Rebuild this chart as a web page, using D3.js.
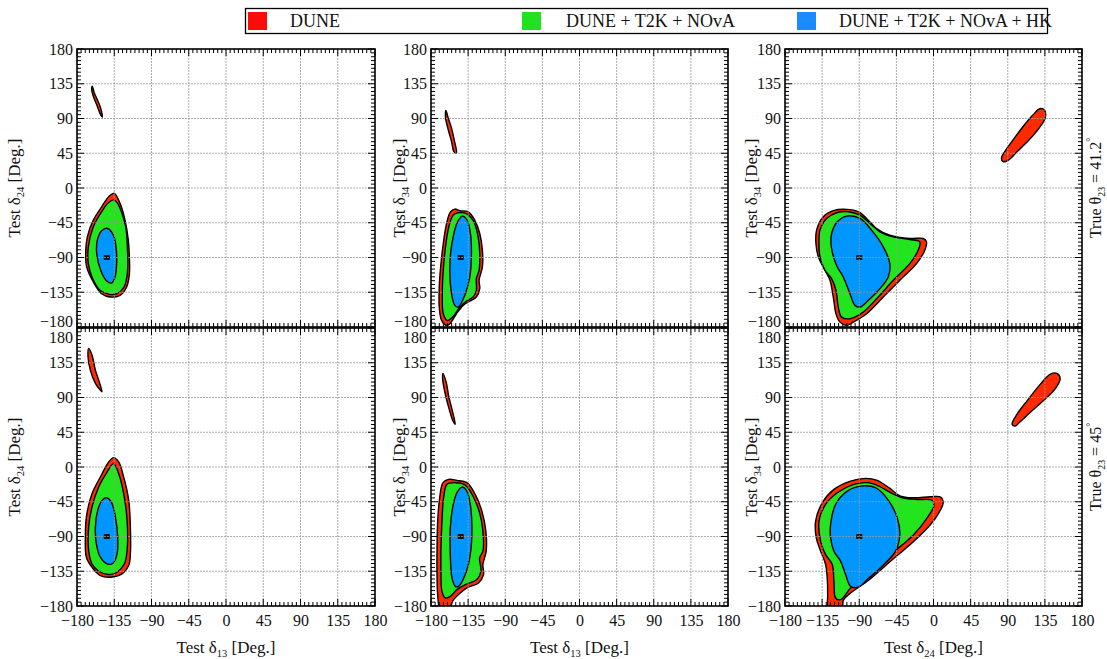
<!DOCTYPE html>
<html><head><meta charset="utf-8">
<script src="https://cdn.jsdelivr.net/npm/d3@7"></script>
<style>body{margin:0;background:#fff} svg text{font-family:"Liberation Serif","DejaVu Serif",serif !important;fill:#111}</style>
</head><body><svg id="c" width="1107" height="659"></svg>
<script>
// ---------- data ----------
const tickValues = [-180,-135,-90,-45,0,45,90,135,180];
const seriesNames = ["DUNE","DUNE + T2K + NOvA","DUNE + T2K + NOvA + HK"];
const seriesColors = ["#ff2a00","#22e51e","#0096ff"];
const legendColors = ["#ff0a0a","#22e022","#1a8cff"];
const rowLabels = [["41.2"],["45"]];
const xLabels = [["13"],["13"],["24"]];
const yLabels = [["24"],["34"],["34"]];
const bestFits = [[-144,-90],[-144,-90],[-90,-90],[-144,-90],[-144,-90],[-90,-90]];

// Panel 1 (θ23=41.2, δ13 vs δ24)
const p1Red = [
 [[-134.9,-6.9],[-128,-19.9],[-122,-41.6],[-118,-67.6],[-116.7,-89.2],[-116.7,-110.9],[-120,-128.2],[-128,-139],[-140.1,-141.2],[-150.2,-136.9],[-160.3,-121.7],[-168.3,-102.2],[-169.5,-84.9],[-167.5,-63.2],[-160.3,-41.6],[-150.2,-24.3],[-140.9,-10.4]],
 [[-161.5,131.7],[-159.1,123],[-155.4,114.3],[-151.4,103.5],[-149.4,91.8],[-151.4,94.8],[-156.2,107.8],[-160.3,118.7],[-162.3,127.3]]
];
const p1Green = [
 [[-134.9,-15.6],[-122,-45.9],[-119.2,-76.2],[-119.2,-110.9],[-123.2,-128.2],[-132,-136.9],[-140.9,-137.7],[-152.2,-132.5],[-161.1,-117.4],[-166.3,-97.9],[-166.3,-76.2],[-160.3,-50.2],[-150.2,-30.7],[-142.1,-19.1]]
];
const p1Blue = [
 [[-142.9,-52.4],[-136.1,-61.1],[-132.9,-76.2],[-132.1,-97.9],[-134.1,-115.2],[-138.1,-123],[-144.1,-120.4],[-151.4,-106.5],[-156.2,-84.9],[-155.4,-67.6],[-150.2,-55.4]]
];
// Panel 2 (θ23=41.2, δ13 vs δ34)
const p2Red = [
 [[-151.1,-27.3],[-145,-29.4],[-135,-30.7],[-127,-41.6],[-120.9,-58.9],[-117.7,-80.6],[-117.7,-102.2],[-121.7,-119.5],[-120.9,-130.4],[-125,-141.2],[-135,-147.7],[-141,-152],[-149.1,-162.8],[-157.1,-175.8],[-161.1,-178],[-167.1,-171.5],[-170,-154.2],[-170,-128.2],[-168.3,-102.2],[-165.1,-71.9],[-161.1,-45.9],[-156.3,-30.7]],
 [[-161.9,100.5],[-159.1,90.5],[-155.1,77.5],[-152.3,64.5],[-149.1,45],[-152.3,47.2],[-155.1,60.2],[-159.1,75.4],[-162.3,90.5]]
];
const p2Green = [
 [[-147,-32],[-136.2,-33.8],[-128.2,-43.7],[-122.9,-63.2],[-120.9,-84.9],[-121.7,-106.5],[-125,-117.4],[-125,-132.5],[-129,-141.2],[-137,-146.4],[-145,-154.2],[-153.9,-167.2],[-160.3,-171.5],[-165.1,-162.8],[-166.3,-136.9],[-165.1,-106.5],[-161.9,-71.9],[-157.9,-48.1],[-153.1,-35.1]]
];
const p2Blue = [
 [[-142.2,-36.4],[-136.2,-41.6],[-132.2,-58.9],[-131,-84.9],[-133,-115.2],[-139,-139],[-147,-154.2],[-151.1,-152],[-155.1,-136.9],[-157.1,-110.9],[-156.3,-84.9],[-153.1,-63.2],[-148.3,-45]]
];
// Panel 3 (θ23=41.2, δ24 vs δ34)
const p3Red = [
 [[-141.7,-54.6],[-133.6,-37.2],[-121.5,-29.4],[-105.3,-27.7],[-91.2,-30.7],[-81.1,-39.4],[-69,-52.4],[-52.9,-61.1],[-28.7,-65.4],[-12.5,-65.4],[-8.5,-69.7],[-10.5,-80.6],[-20.6,-97.9],[-40.8,-119.5],[-60.9,-141.2],[-81.1,-162.8],[-97.3,-173.7],[-105.3,-178],[-113.4,-173.7],[-118.2,-162.8],[-121.5,-141.2],[-125.5,-119.5],[-131.6,-106.5],[-139.6,-89.2],[-142.5,-71.9]],
 [[82.3,38.5],[86.4,47.2],[96.5,62.4],[108.6,79.7],[120.7,94.8],[128.8,102.6],[134.5,101],[135.5,91],[128,77.5],[116,62.4],[101.5,47.2],[90,35.5],[84.4,34.2]]
];
const p3Green = [
 [[-137.6,-54.6],[-129.6,-39.4],[-117.4,-32],[-103.3,-30.7],[-89.2,-35.1],[-77.1,-45.9],[-65,-56.7],[-48.8,-63.2],[-28.7,-66.7],[-16.6,-69.7],[-18.6,-80.6],[-28.7,-97.9],[-48.8,-119.5],[-69,-143.4],[-85.2,-160.7],[-101.3,-169.3],[-111.4,-167.2],[-115.4,-154.2],[-118.2,-132.5],[-123.5,-117.4],[-131.6,-106.5],[-137.6,-89.2],[-138.8,-71.9]]
];
const p3Blue = [
 [[-123.5,-58.9],[-116.6,-43.7],[-105.3,-36.4],[-89.2,-39.4],[-75.1,-54.6],[-60.9,-76.2],[-52.9,-97.9],[-54.9,-115.2],[-65,-130.4],[-79.1,-145.5],[-89.2,-154.2],[-95.2,-152],[-101.3,-136.9],[-109.4,-115.2],[-116.6,-102.2],[-122.3,-84.9],[-124.3,-71.9]]
];
// Panel 4 (θ23=45, δ13 vs δ24)
const p4Red = [
 [[-135.7,12.1],[-129.6,6.5],[-123.6,-13],[-117.5,-43.3],[-115.5,-77.9],[-115.5,-112.5],[-117.5,-127.6],[-125.6,-138.5],[-139.7,-142.8],[-151.8,-140.6],[-161.9,-129.8],[-168.7,-116.8],[-169.9,-90.9],[-168.7,-64.9],[-161.9,-34.6],[-151.8,-13],[-141.7,6.5]],
 [[-165.9,153.6],[-161.9,145],[-157.8,125.5],[-153.8,112.5],[-149.8,97.4],[-151.8,99.5],[-157.8,108.2],[-163.9,125.5],[-166.7,142.8]]
];
const p4Green = [
 [[-135.7,4.3],[-129.6,-8.7],[-123.6,-34.6],[-119.5,-69.2],[-119.5,-108.2],[-122.8,-125.5],[-131.6,-136.3],[-141.7,-139.3],[-153.8,-135],[-161.9,-125.5],[-165.9,-108.2],[-165.9,-77.9],[-161.9,-51.9],[-153.8,-26],[-143.7,-6.5]]
];
const p4Blue = [
 [[-144.5,-39.8],[-138.5,-45.4],[-133.6,-64.9],[-130.8,-90.9],[-131.6,-112.5],[-136.5,-124.6],[-143.7,-125.5],[-151.8,-116.8],[-156.6,-99.5],[-157.8,-77.9],[-155,-56.2],[-149.8,-43.3]]
];
// Panel 5 (θ23=45, δ13 vs δ34)
const p5Red = [
 [[-165.5,-20.3],[-158.6,-16],[-148.6,-17.3],[-136.5,-20.3],[-126.4,-35.5],[-118.3,-57.1],[-113.5,-83.1],[-113.1,-109],[-117.1,-126.3],[-116.3,-139.3],[-122.4,-150.1],[-136.5,-156.6],[-144.5,-163.1],[-152.6,-171.8],[-159,-184],[-168.7,-184],[-171.9,-165.3],[-172.7,-139.3],[-172.7,-104.7],[-171.9,-70.1],[-169.5,-39.8]],
 [[-165.5,121.2],[-161.5,109.5],[-158.6,92.2],[-154.6,74.9],[-150.6,55.4],[-153.4,59.7],[-157.4,72.7],[-162.7,94.3],[-165.9,113.8]]
];
const p5Green = [
 [[-160.7,-22.5],[-150.6,-20.3],[-138.5,-23.4],[-129.2,-37.6],[-121.1,-59.3],[-117.1,-83.1],[-117.1,-109],[-121.1,-117.7],[-119.5,-135],[-124.4,-145.8],[-138.5,-152.3],[-148.6,-158.8],[-156.6,-167.5],[-162.7,-169.6],[-166.7,-161],[-167.9,-135],[-167.9,-104.7],[-166.7,-70.1],[-164.7,-39.8]]
];
const p5Blue = [
 [[-142.5,-26],[-136.5,-31.2],[-132.4,-48.5],[-130.4,-78.8],[-132.4,-113.4],[-138.5,-139.3],[-146.5,-154.5],[-150.6,-154.5],[-154.6,-143.7],[-156.6,-113.4],[-156.6,-78.8],[-153.4,-50.6],[-148.6,-33.3]]
];
// Panel 6 (θ23=45, δ24 vs δ34)
const p6Red = [
 [[-142.9,-70.1],[-134.8,-46.3],[-120.7,-29],[-100.5,-18.2],[-82.3,-14.7],[-68.2,-17.3],[-54.1,-26.8],[-40,-37.6],[-23.8,-39.8],[-3.6,-38.5],[8.5,-38.9],[11.7,-46.3],[6.5,-59.3],[-3.6,-74.4],[-23.8,-96.1],[-52.1,-122],[-80.3,-148],[-100.5,-163.1],[-109,-172],[-112,-184],[-127,-184],[-128.3,-165],[-128.5,-150],[-130.8,-126.3],[-136.8,-109],[-142.1,-91.7]],
 [[95.3,55.4],[101.3,68.4],[113.4,85.7],[129.6,107.3],[141.7,120.3],[149.7,121.2],[153.5,114.5],[148,102],[133,85.7],[117,70.5],[104,57.5],[99,53]]
];
const p6Green = [
 [[-138.8,-70.1],[-130.8,-48.5],[-116.6,-33.3],[-96.5,-22.5],[-80.3,-20.3],[-66.2,-24.7],[-52.1,-33.3],[-37.9,-39.8],[-19.8,-42],[-1.6,-43.3],[0.4,-50.6],[-7.7,-65.8],[-23.8,-87.4],[-52.1,-113.4],[-80.3,-139.3],[-100.5,-156.6],[-112.6,-171.8],[-118.7,-169.6],[-120.7,-148],[-122.7,-126.3],[-130.8,-113.4],[-136.8,-96.1]]
];
const p6Blue = [
 [[-124.7,-74.4],[-118.7,-48.5],[-104.5,-31.2],[-88.3,-24.7],[-70.2,-26.8],[-54.1,-44.1],[-44,-65.8],[-40.8,-87.4],[-46,-109],[-60.1,-126.3],[-80.3,-145.8],[-90.4,-155.3],[-100.5,-154.5],[-106.5,-139.3],[-112.6,-122],[-120.7,-109],[-124.7,-91.7]]
];

const panelData = [
  [p1Red,p1Green,p1Blue],[p2Red,p2Green,p2Blue],[p3Red,p3Green,p3Blue],
  [p4Red,p4Green,p4Blue],[p5Red,p5Green,p5Blue],[p6Red,p6Green,p6Blue]
];

// ---------- layout ----------
const colX = [[77,375],[431,728],[785,1082]];
const rowY = [[49,327],[328,606]];
const yLabelX = [20,405,757];
const FONT = '"Liberation Serif","DejaVu Serif",serif';
const TICKFS = 16;

const svg = d3.select("#c");
const defs = svg.append("defs");
const minorVals = d3.range(-180,181,5);

function subText(t, parts, size) {
  let shift = 0;
  parts.forEach(([s,type])=>{
    let target = type==='sub'? 4 : type==='sup'? -7 : 0;
    const ts = t.append("tspan").text(s).attr("dy", target-shift);
    if (type!=='n') ts.attr("font-size", size*0.62);
    shift = target;
  });
}

for (let r=0;r<2;r++){
  for (let c=0;c<3;c++){
    const idx = r*3+c;
    const [x0,x1] = colX[c], [y0,y1] = rowY[r];
    const xs = d3.scaleLinear().domain([-180,180]).range([x0,x1]);
    const ys = d3.scaleLinear().domain([-180,180]).range([y1,y0]);
    const g = svg.append("g");
    const cid = "clip"+idx;
    defs.append("clipPath").attr("id",cid).append("rect")
      .attr("x",x0).attr("y",y0).attr("width",x1-x0).attr("height",y1-y0);
    const cg = g.append("g").attr("clip-path",`url(#${cid})`);
    const line = d3.line().x(d=>xs(d[0])).y(d=>ys(d[1])).curve(d3.curveCatmullRomClosed.alpha(0.5));
    panelData[idx].forEach((polys,si)=>{
      polys.forEach(p=>{
        cg.append("path").attr("d",line(p))
          .attr("fill",seriesColors[si]).attr("stroke","#000").attr("stroke-width",1.4)
          .attr("stroke-linejoin","round");
      });
    });
    const bf = bestFits[idx];
    cg.append("rect").attr("x",xs(bf[0])-3).attr("y",ys(bf[1])-2.5).attr("width",6).attr("height",5).attr("fill","#111");
    tickValues.slice(1,-1).forEach(v=>{
      cg.append("line").attr("x1",xs(v)).attr("x2",xs(v)).attr("y1",y0).attr("y2",y1)
        .attr("stroke","#999").attr("stroke-width",1).attr("stroke-dasharray","2,1").attr("opacity",0.8);
      cg.append("line").attr("y1",ys(v)).attr("y2",ys(v)).attr("x1",x0).attr("x2",x1)
        .attr("stroke","#999").attr("stroke-width",1).attr("stroke-dasharray","2,1").attr("opacity",0.8);
    });
    const tg = g.append("g").attr("stroke","#000").attr("stroke-width",1);
    minorVals.forEach(v=>{
      const major = (v%45===0);
      const L = major?7:4;
      const px = xs(v), py = ys(v);
      tg.append("line").attr("x1",px).attr("x2",px).attr("y1",y1).attr("y2",y1-L);
      tg.append("line").attr("x1",px).attr("x2",px).attr("y1",y0).attr("y2",y0+L);
      tg.append("line").attr("y1",py).attr("y2",py).attr("x1",x0).attr("x2",x0+L);
      tg.append("line").attr("y1",py).attr("y2",py).attr("x1",x1).attr("x2",x1-L);
    });
    g.append("rect").attr("x",x0).attr("y",y0).attr("width",x1-x0).attr("height",y1-y0)
      .attr("fill","none").attr("stroke","#000").attr("stroke-width",1.6);
    const fmt = d=>String(d).replace("-","\u2212");
    const yAxis = d3.axisLeft(ys).tickValues(tickValues).tickSize(0).tickPadding(4).tickFormat(fmt);
    const ya = g.append("g").attr("transform",`translate(${x0},0)`).call(yAxis);
    ya.attr("font-family",FONT).attr("font-size",TICKFS);
    ya.select(".domain").remove();
    ya.selectAll("text").style("font-family",FONT).style("font-size",TICKFS+"px").attr("fill","#111")
      .attr("dy", d=> (r===0 && d===-180)? "-0.05em" : (r===1 && d===180)? "0.9em" : "0.32em");
    if (r===1){
      const xAxis = d3.axisBottom(xs).tickValues(tickValues).tickSize(0).tickPadding(9).tickFormat(fmt);
      const xa = g.append("g").attr("transform",`translate(0,${y1})`).call(xAxis);
      xa.attr("font-family",FONT).attr("font-size",TICKFS);
      xa.select(".domain").remove();
      xa.selectAll("text").style("font-family",FONT).style("font-size",TICKFS+"px").attr("fill","#111");
      const xt = g.append("text").attr("x",(x0+x1)/2).attr("y",653).attr("text-anchor","middle").attr("font-size",17);
      subText(xt, [["Test \u03b4","n"],[xLabels[c][0],"sub"],[" [Deg.]","n"]], 17);
    }
    const yt = g.append("text").attr("text-anchor","middle").attr("font-size",17)
      .attr("transform",`translate(${yLabelX[c]},${(y0+y1)/2}) rotate(-90)`);
    subText(yt, [["Test \u03b4","n"],[yLabels[c][0],"sub"],[" [Deg.]","n"]], 17);
  }
  const rt = svg.append("text").attr("text-anchor","middle").attr("font-size",16)
    .attr("transform",`translate(1101,${(rowY[r][0]+rowY[r][1])/2}) rotate(-90)`);
  subText(rt, [["True \u03b8","n"],["23","sub"],[" = "+rowLabels[r][0],"n"],["\u00b0","sup"]], 16);
}

// ---------- legend ----------
const lg = svg.append("g");
lg.append("rect").attr("x",245.5).attr("y",8.5).attr("width",802).attr("height",25)
  .attr("fill","#fff").attr("stroke","#000").attr("stroke-width",1.3);
const legX = [248,522,797], legTX = [290,566,839];
seriesNames.forEach((n,i)=>{
  lg.append("rect").attr("x",legX[i]).attr("y",12).attr("width",19).attr("height",18).attr("fill",legendColors[i]);
  lg.append("text").attr("x",legTX[i]).attr("y",27).attr("font-size",18).text(n);
});
</script></body></html>
